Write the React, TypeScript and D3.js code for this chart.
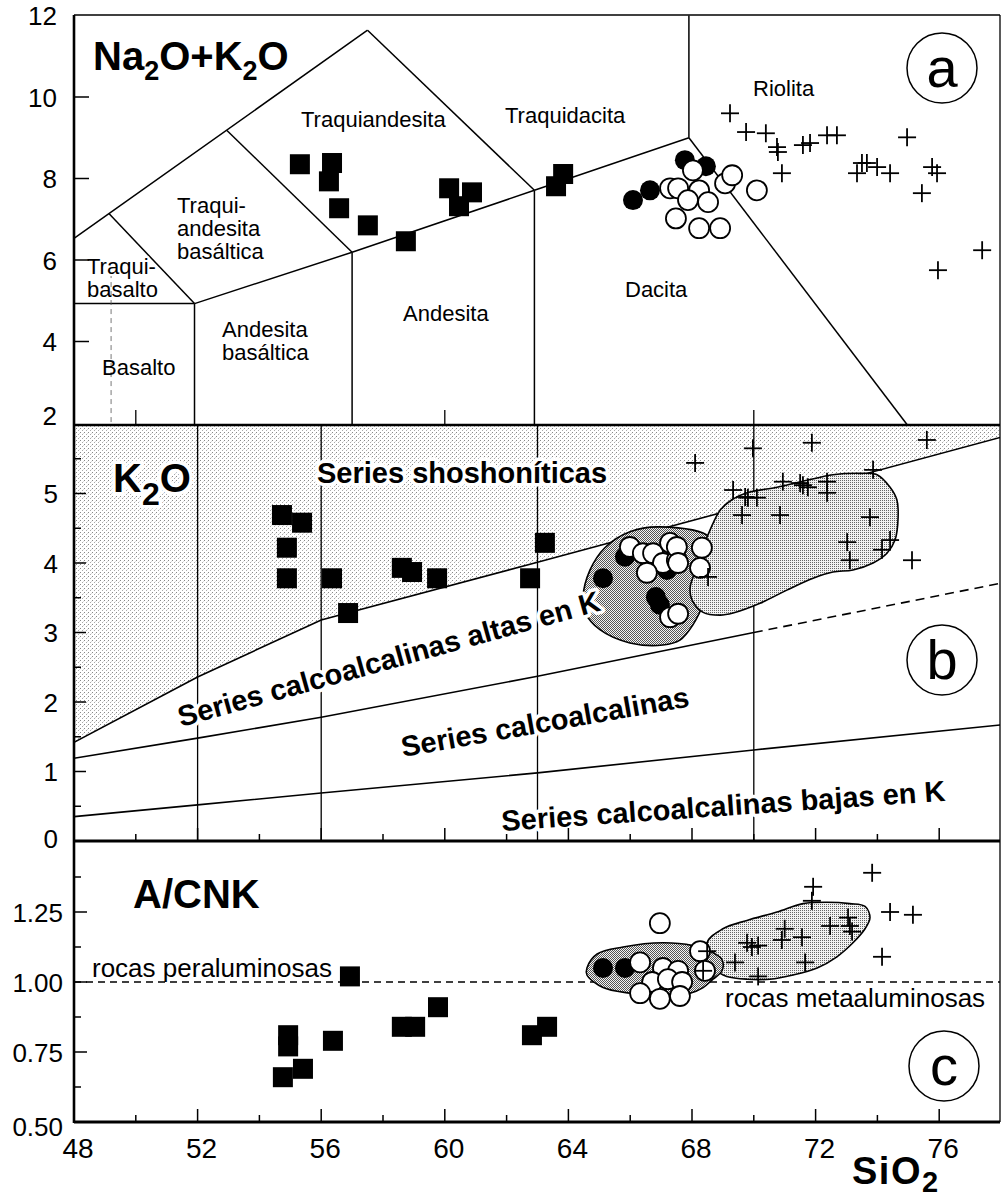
import React from 'react';
import * as d3 from 'd3';

const FONT = '"Liberation Sans", Arial, Helvetica, sans-serif';

type P = [number, number];

// ---------- Panel a : TAS (SiO2 vs Na2O+K2O) ----------
const tasLines: P[][] = [
  [[48, 6.53], [57.5, 11.64]],
  [[57.5, 11.64], [62.9, 7.71]],
  [[62.9, 7.71], [67.9, 9.0]],
  [[67.9, 9.0], [67.9, 12]],
  [[67.9, 9.0], [74.97, 1.95]],
  [[49.13, 7.14], [51.9, 4.93]],
  [[48, 4.93], [51.9, 4.93]],
  [[51.9, 4.93], [51.9, 1.95]],
  [[51.9, 4.93], [57, 6.19]],
  [[52.95, 9.18], [57, 6.19]],
  [[57, 6.19], [62.9, 7.71]],
  [[57, 6.19], [57, 1.95]],
  [[62.9, 7.71], [62.9, 1.95]],
];
const tasDashed: P[] = [[49.2, 5.9], [49.2, 1.95]];

const squaresA: P[] = [
  [55.31, 8.35], [56.35, 8.38], [56.25, 7.93], [56.58, 7.27], [57.51, 6.85], [58.74, 6.46],
  [60.14, 7.76], [60.46, 7.32], [60.88, 7.66], [63.6, 7.81], [63.83, 8.11],
];
const filledA: P[] = [[66.09, 7.47], [66.64, 7.71], [67.77, 8.45], [68.45, 8.3]];
const openA: P[] = [
  [68.03, 8.2], [67.29, 7.76], [67.55, 7.76], [68.23, 7.71], [67.87, 7.47], [68.52, 7.42],
  [67.48, 7.02], [68.23, 6.78], [68.91, 6.78], [69.07, 7.88], [69.3, 8.08], [70.1, 7.71],
];
const crossA: P[] = [
  [69.23, 9.6], [69.75, 9.14], [70.39, 9.11], [70.75, 8.77], [70.78, 8.65], [70.91, 8.13],
  [71.59, 8.82], [71.82, 8.87], [72.37, 9.06], [72.69, 9.06], [74.96, 9.01], [73.34, 8.13],
  [73.5, 8.38], [73.66, 8.38], [73.99, 8.28], [74.41, 8.13], [75.77, 8.28], [75.93, 8.13],
  [75.44, 7.64], [77.39, 6.24], [75.96, 5.75],
];

// ---------- Panel b : K2O vs SiO2 ----------
const upperK: P[] = [[48, 1.42], [52, 2.36], [56, 3.18], [63, 4.01], [78, 5.81]];
const middleK: P[] = [[48, 1.19], [52, 1.48], [56, 1.78], [63, 2.37], [70, 3.0]];
const middleKDashed: P[] = [[70, 3.0], [78, 3.71]];
const lowerK: P[] = [[48, 0.35], [52, 0.52], [56, 0.69], [63, 0.98], [70, 1.31], [78, 1.67]];
const verticalsB = [52, 56, 63, 70];

const daciteFieldB: P[] = [
  [64.47, 3.5], [64.7, 3.9], [65.18, 4.22], [65.99, 4.45], [66.96, 4.52], [68.58, 4.37],
  [68.78, 4.04], [68.42, 3.47], [68.03, 3.11], [67.61, 2.89], [67.06, 2.82], [65.99, 2.85],
  [65.02, 3.04], [64.54, 3.29],
];
const rhyoliteFieldB: P[] = [
  [68.58, 4.47], [68.91, 4.76], [69.29, 4.91], [69.78, 5.01], [70.75, 5.09], [71.72, 5.19],
  [72.56, 5.27], [73.44, 5.29], [73.99, 5.27], [74.41, 5.09], [74.63, 4.91], [74.67, 4.66],
  [74.57, 4.33], [74.31, 4.14], [73.86, 4.0], [73.21, 3.9], [72.56, 3.87], [71.92, 3.78],
  [71.07, 3.61], [70.2, 3.42], [69.33, 3.28], [68.91, 3.25], [68.36, 3.29], [68.0, 3.47],
  [67.94, 3.65], [68.16, 3.94], [68.36, 4.23],
];

const squaresB: P[] = [
  [54.73, 4.69], [55.38, 4.58], [54.89, 4.22], [54.89, 3.78], [56.35, 3.78], [56.87, 3.28],
  [58.61, 3.93], [58.94, 3.87], [59.75, 3.78], [62.76, 3.78], [63.24, 4.29],
];
const filledB: P[] = [[65.12, 3.78], [65.83, 4.09], [66.83, 3.51], [66.96, 3.4], [67.19, 3.9]];
const openB: P[] = [
  [65.99, 4.23], [66.41, 4.14], [66.74, 4.14], [67.29, 4.29], [67.06, 4.0], [67.51, 4.04],
  [66.54, 3.86], [67.51, 4.23], [68.32, 4.22], [67.55, 4.0], [68.26, 3.93], [67.29, 3.22],
  [67.55, 3.27],
];
const crossB: P[] = [
  [68.1, 5.44], [69.97, 5.65], [71.88, 5.73], [75.6, 5.77], [69.33, 5.05], [69.72, 4.95],
  [69.81, 4.94], [70.1, 4.94], [70.94, 5.17], [71.5, 5.15], [71.59, 5.12], [71.75, 5.09],
  [72.37, 5.17], [72.37, 5.01], [73.86, 5.34], [69.62, 4.69], [70.85, 4.69], [73.76, 4.66],
  [73.02, 4.3], [73.11, 4.04], [74.41, 4.33], [74.15, 4.19], [75.12, 4.04], [68.52, 3.8],
];

// ---------- Panel c : A/CNK vs SiO2 ----------
const daciteFieldC: P[] = [
  [64.6, 1.05], [64.93, 1.1], [65.77, 1.125], [67.06, 1.14], [68.03, 1.13], [68.58, 1.11],
  [68.97, 1.08], [68.97, 1.04], [68.68, 1.01], [68.36, 0.98], [67.94, 0.96], [66.96, 0.95],
  [65.99, 0.96], [65.12, 0.98], [64.6, 1.025],
];
const rhyoliteFieldC: P[] = [
  [68.49, 1.14], [69.0, 1.19], [69.78, 1.22], [70.75, 1.25], [71.59, 1.28], [72.37, 1.285],
  [73.11, 1.28], [73.6, 1.27], [73.76, 1.23], [73.6, 1.19], [73.21, 1.14], [72.69, 1.09],
  [72.05, 1.05], [71.27, 1.025], [70.52, 1.01], [69.78, 1.01], [69.13, 1.02], [68.81, 1.04],
];
const squaresC: P[] = [
  [54.93, 0.81], [54.93, 0.77], [54.76, 0.66], [55.41, 0.69], [56.38, 0.79], [56.93, 1.02],
  [58.61, 0.84], [59.04, 0.84], [59.78, 0.91], [62.82, 0.81], [63.31, 0.84],
];
const filledC: P[] = [[65.12, 1.05], [65.83, 1.05]];
const openC: P[] = [
  [66.96, 1.21], [66.32, 1.07], [67.06, 1.05], [67.55, 1.04], [66.71, 1.0], [67.22, 1.01],
  [67.68, 1.0], [66.32, 0.96], [66.96, 0.94], [67.61, 0.95], [68.26, 1.11], [68.42, 1.04],
];
const crossC: P[] = [
  [73.83, 1.39], [71.92, 1.34], [71.88, 1.29], [74.41, 1.25], [75.15, 1.24], [73.05, 1.23],
  [73.11, 1.2], [73.18, 1.18], [72.47, 1.2], [71.0, 1.19], [70.91, 1.15], [71.56, 1.16],
  [69.78, 1.14], [69.94, 1.125], [70.14, 1.13], [68.49, 1.11], [69.39, 1.07], [71.66, 1.07],
  [70.14, 1.02], [74.15, 1.09], [68.36, 1.04],
];

// ---------- Axes ----------
const yTicksA = [12, 10, 8, 6, 4, 2];
const yTicksB = [0, 1, 2, 3, 4, 5];
const yMinorB = [0.5, 1.5, 2.5, 3.5, 4.5, 5.5];
const yTicksC = [0.5, 0.75, 1.0, 1.25];
const yMinorC = [0.625, 0.875, 1.125, 1.375];
const xTicks = [48, 52, 56, 60, 64, 68, 72, 76];
const xMinor = [50, 54, 58, 62, 66, 70, 74];
const xTicksTopA = [50, 60, 70];

// ---------- Layout ----------
const W = 1005, H = 1198;
const X0 = 74, X1 = 1000;
const TOP = 15, AB = 425, BC = 841, BOT = 1122;

const x = d3.scaleLinear().domain([48, 78]).range([74, 1001]);
const yA = d3.scaleLinear().domain([2, 12]).range([423, 15.5]);
const yB = d3.scaleLinear().domain([0, 6]).range([841, 424]);
const yC = d3.scaleLinear().domain([0.5, 1.5]).range([1122, 842]);

const halo = { stroke: 'white', strokeWidth: 7, paintOrder: 'stroke' as const, strokeLinejoin: 'round' as const };

function Markers({ sq, fc, oc, cr, ys }: { sq: P[]; fc: P[]; oc: P[]; cr: P[]; ys: d3.ScaleLinear<number, number> }) {
  const s = 20, r = 10, c = 9;
  return (
    <g>
      {sq.map((d, i) => (
        <rect key={'s' + i} x={x(d[0]) - s / 2} y={ys(d[1]) - s / 2} width={s} height={s} fill="#000" />
      ))}
      {fc.map((d, i) => (
        <circle key={'f' + i} cx={x(d[0])} cy={ys(d[1])} r={r} fill="#000" />
      ))}
      {oc.map((d, i) => (
        <circle key={'o' + i} cx={x(d[0])} cy={ys(d[1])} r={r} fill="#fff" stroke="#000" strokeWidth={1.8} />
      ))}
      {cr.map((d, i) => (
        <g key={'c' + i} stroke="#000" strokeWidth={1.8}>
          <line x1={x(d[0]) - c} x2={x(d[0]) + c} y1={ys(d[1])} y2={ys(d[1])} />
          <line x1={x(d[0])} x2={x(d[0])} y1={ys(d[1]) - c} y2={ys(d[1]) + c} />
        </g>
      ))}
    </g>
  );
}

function CircleLetter({ cx, cy, letter }: { cx: number; cy: number; letter: string }) {
  return (
    <g>
      <circle cx={cx} cy={cy} r={35} fill="#fff" stroke="#000" strokeWidth={1.5} />
      <text x={cx} y={cy + 19} textAnchor="middle" fontSize={56} fontFamily={FONT}>{letter}</text>
    </g>
  );
}

export default function App() {
  const lineA = d3.line<P>().x(d => x(d[0])).y(d => yA(d[1]));
  const lineB = d3.line<P>().x(d => x(d[0])).y(d => yB(d[1]));
  const blobB = d3.line<P>().x(d => x(d[0])).y(d => yB(d[1])).curve(d3.curveCatmullRomClosed.alpha(0.5));
  const blobC = d3.line<P>().x(d => x(d[0])).y(d => yC(d[1])).curve(d3.curveCatmullRomClosed.alpha(0.5));

  const shoshField = 'M' + upperK.map(d => `${x(d[0])},${yB(d[1])}`).join('L') + `L${X1},${AB}L${X0},${AB}Z`;

  return (
    <svg width={W} height={H} style={{ position: 'absolute', left: 0, top: 0, background: '#fff' }} fontFamily={FONT}>
      <defs>
        <pattern id="pLight" width={4} height={4} patternUnits="userSpaceOnUse">
          <rect width={4} height={4} fill="#fff" />
          <rect x={0} y={0} width={1} height={1} fill="#888" />
          <rect x={2} y={2} width={1} height={1} fill="#aaa" />
          <rect x={3} y={1} width={1} height={1} fill="#ddd" />
        </pattern>
        <pattern id="pMed" width={2} height={2} patternUnits="userSpaceOnUse">
          <rect width={2} height={2} fill="#f2f2f2" />
          <rect x={0} y={0} width={1} height={1} fill="#666" />
        </pattern>
        <pattern id="pDark" width={2} height={2} patternUnits="userSpaceOnUse">
          <rect width={2} height={2} fill="#f4f4f4" />
          <rect x={0} y={0} width={1} height={1} fill="#555" />
          <rect x={1} y={1} width={1} height={1} fill="#555" />
        </pattern>
        <clipPath id="clipB"><rect x={X0} y={AB} width={X1 - X0} height={BC - AB} /></clipPath>
        <clipPath id="clipC"><rect x={X0} y={BC} width={X1 - X0} height={BOT - BC} /></clipPath>
      </defs>

      {/* ================= Panel a ================= */}
      <g fill="none" stroke="#000" strokeWidth={1.5}>
        {tasLines.map((l, i) => <path key={i} d={lineA(l) || ''} />)}
        <path d={lineA(tasDashed) || ''} strokeWidth={0.8} strokeDasharray="5,4" stroke="#555" />
      </g>
      <g fontSize={22} fill="#000">
        <text x={753} y={96}>Riolita</text>
        <text x={505} y={123}>Traquidacita</text>
        <text x={301} y={127}>Traquiandesita</text>
        <text x={177} y={213}>Traqui-</text>
        <text x={177} y={236}>andesita</text>
        <text x={177} y={259}>basáltica</text>
        <text x={87} y={274} {...halo} strokeWidth={4}>Traqui-</text>
        <text x={87} y={297}>basalto</text>
        <text x={102} y={375}>Basalto</text>
        <text x={222} y={337}>Andesita</text>
        <text x={222} y={360}>basáltica</text>
        <text x={403} y={321}>Andesita</text>
        <text x={625} y={297}>Dacita</text>
      </g>
      <text x={93} y={70} fontSize={40} fontWeight="bold">
        Na<tspan fontSize={27} dy={10}>2</tspan><tspan dy={-10}>O+K</tspan><tspan fontSize={27} dy={10}>2</tspan><tspan dy={-10}>O</tspan>
      </text>
      <CircleLetter cx={942} cy={68} letter="a" />
      <Markers sq={squaresA} fc={filledA} oc={openA} cr={crossA} ys={yA} />

      {/* ================= Panel b ================= */}
      <g clipPath="url(#clipB)">
        <path d={shoshField} fill="url(#pLight)" stroke="none" />
        <g fill="none" stroke="#000" strokeWidth={1.6}>
          <path d={lineB(upperK) || ''} />
          <path d={lineB(middleK) || ''} />
          <path d={lineB(middleKDashed) || ''} strokeDasharray="9,6" />
          <path d={lineB(lowerK) || ''} />
          {verticalsB.map(v => <line key={v} x1={x(v)} x2={x(v)} y1={AB} y2={BC} strokeWidth={1.3} />)}
        </g>
        <path d={blobB(daciteFieldB) || ''} fill="url(#pDark)" stroke="#000" strokeWidth={1.6} />
        <path d={blobB(rhyoliteFieldB) || ''} fill="url(#pMed)" stroke="#000" strokeWidth={1.6} />
        <g fontSize={29} fontWeight="bold" {...halo}>
          <text x={317} y={483}>Series shoshoníticas</text>
          <text transform="translate(181,727) rotate(-15.5)">Series calcoalcalinas altas en K</text>
          <text transform="translate(403,757) rotate(-10)">Series calcoalcalinas</text>
          <text transform="translate(502,831) rotate(-3.9)">Series calcoalcalinas bajas en K</text>
        </g>
        <text x={113} y={492} fontSize={40} fontWeight="bold" {...halo}>
          K<tspan fontSize={32} dy={13}>2</tspan><tspan dy={-13}>O</tspan>
        </text>
        <CircleLetter cx={942} cy={660} letter="b" />
        <Markers sq={squaresB} fc={filledB} oc={openB} cr={crossB} ys={yB} />
      </g>

      {/* ================= Panel c ================= */}
      <g clipPath="url(#clipC)">
        <line x1={X0} x2={X1} y1={yC(1)} y2={yC(1)} stroke="#000" strokeWidth={1.4} strokeDasharray="7,5" />
        <path d={blobC(rhyoliteFieldC) || ''} fill="url(#pMed)" stroke="#000" strokeWidth={1.6} />
        <path d={blobC(daciteFieldC) || ''} fill="url(#pDark)" stroke="#000" strokeWidth={1.6} />
        <text x={92} y={977} fontSize={26}>rocas peraluminosas</text>
        <text x={725} y={1007} fontSize={26}>rocas metaaluminosas</text>
        <text x={133} y={908} fontSize={40} fontWeight="bold">A/CNK</text>
        <CircleLetter cx={944} cy={1066} letter="c" />
        <Markers sq={squaresC} fc={filledC} oc={openC} cr={crossC} ys={yC} />
      </g>

      {/* ================= Frame & axes ================= */}
      <g stroke="#000" fill="none">
        <line x1={X0} x2={X1} y1={TOP} y2={TOP} strokeWidth={1.6} />
        <line x1={X0} x2={X1} y1={AB} y2={AB} strokeWidth={2.6} />
        <line x1={X0} x2={X1} y1={BC} y2={BC} strokeWidth={2.8} />
        <line x1={X0} x2={X1} y1={BOT} y2={BOT} strokeWidth={2.8} />
        <line x1={X0} x2={X0} y1={TOP} y2={BOT + 1} strokeWidth={2.6} />
        <line x1={X1} x2={X1} y1={TOP} y2={BOT} strokeWidth={1.3} />
        {yTicksA.slice(1, 5).map(v => <line key={'ta' + v} x1={X0} x2={X0 + 15} y1={yA(v)} y2={yA(v)} strokeWidth={1.5} />)}
        {yTicksB.slice(1).map(v => <line key={'tb' + v} x1={X0} x2={X0 + 12} y1={yB(v)} y2={yB(v)} strokeWidth={1.5} />)}
        {yMinorB.map(v => <line key={'mb' + v} x1={X0} x2={X0 + 7} y1={yB(v)} y2={yB(v)} strokeWidth={1.5} />)}
        {yTicksC.slice(1).map(v => <line key={'tc' + v} x1={X0} x2={X0 + 13} y1={yC(v)} y2={yC(v)} strokeWidth={1.5} />)}
        {yMinorC.map(v => <line key={'mc' + v} x1={X0} x2={X0 + 7} y1={yC(v)} y2={yC(v)} strokeWidth={1.5} />)}
        {xTicksTopA.map(v => <line key={'xa' + v} x1={x(v)} x2={x(v)} y1={AB} y2={AB - 15} strokeWidth={1.3} />)}
        {[BC, BOT].map(yb => (
          <g key={'xt' + yb}>
            {xTicks.slice(1).map(v => <line key={v} x1={x(v)} x2={x(v)} y1={yb} y2={yb - 13} strokeWidth={1.5} />)}
            {xMinor.map(v => <line key={'m' + v} x1={x(v)} x2={x(v)} y1={yb} y2={yb - 7} strokeWidth={1.5} />)}
          </g>
        ))}
      </g>
      <g fontSize={26} textAnchor="end">
        {yTicksA.map(v => <text key={'la' + v} x={57} y={(v === 2 ? yA(v) - 8 : yA(v)) + 9.5}>{v}</text>)}
        {yTicksB.map(v => <text key={'lb' + v} x={58} y={(v === 0 ? yB(v) - 3 : yB(v)) + 9.5}>{v}</text>)}
        {yTicksC.map(v => <text key={'lc' + v} x={63} y={yC(v) + 9.5 + (v === 0.5 ? 4 : 0)}>{v.toFixed(2)}</text>)}
      </g>
      <g fontSize={28} textAnchor="middle">
        {xTicks.map(v => <text key={'lx' + v} x={x(v) + 4} y={1158}>{v}</text>)}
      </g>
      <text x={852} y={1184} fontSize={38} fontWeight="bold" letterSpacing={1.5}>
        SiO<tspan fontSize={29} dy={8}>2</tspan>
      </text>
    </svg>
  );
}
